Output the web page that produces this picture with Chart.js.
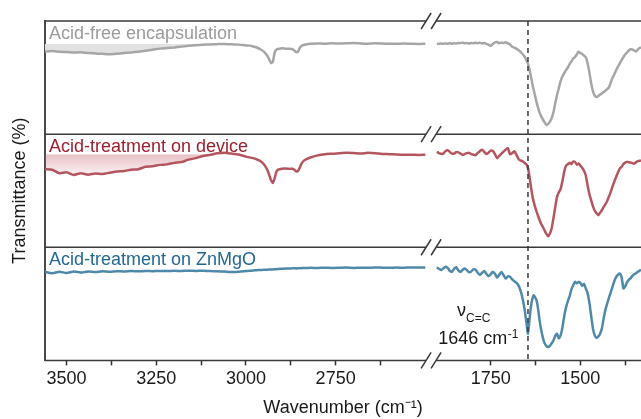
<!DOCTYPE html>
<html>
<head>
<meta charset="utf-8">
<script src="https://cdn.jsdelivr.net/npm/chart.js@4.4.0/dist/chart.umd.min.js"></script>
<style>
    html, body { margin: 0; padding: 0; background: #fff; }
    #wrap { width: 641px; height: 419px; }
</style>
</head>
<body>
<div id="wrap"><canvas id="ftir-chart"></canvas></div>
<script>
// wavenumbers (cm-1) on each side of the axis break
const wnLeft = [
    3560, 3540, 3520, 3500, 3480, 3460, 3440, 3420, 3400, 3380,
    3360, 3340, 3320, 3300, 3280, 3260, 3240, 3220, 3200, 3180,
    3160, 3140, 3120, 3100, 3080, 3060, 3040, 3020, 3000, 2990,
    2980, 2970, 2960, 2950, 2940, 2935, 2930, 2925, 2920, 2915,
    2910, 2900, 2890, 2880, 2870, 2865, 2860, 2855, 2850, 2845,
    2840, 2830, 2820, 2800, 2780, 2760, 2740, 2720, 2700, 2680,
    2660, 2640, 2620, 2600, 2580, 2560, 2540, 2520, 2500
]
const wnRight = [
    1900, 1894, 1888, 1882, 1876, 1870, 1864, 1858, 1852, 1846,
    1840, 1834, 1828, 1822, 1816, 1810, 1804, 1798, 1792, 1786,
    1780, 1774, 1768, 1762, 1756, 1750, 1744, 1738, 1732, 1726,
    1720, 1714, 1708, 1702, 1696, 1690, 1684, 1678, 1672, 1666,
    1660, 1655, 1650, 1646, 1642, 1638, 1634, 1630, 1626, 1622,
    1618, 1614, 1610, 1605, 1600, 1595, 1590, 1585, 1580, 1575,
    1570, 1565, 1560, 1555, 1550, 1545, 1540, 1535, 1530, 1525,
    1520, 1515, 1510, 1505, 1500, 1495, 1490, 1485, 1480, 1475,
    1470, 1465, 1460, 1455, 1450, 1445, 1440, 1435, 1430, 1425,
    1420, 1415, 1410, 1405, 1400, 1395, 1390, 1385, 1380, 1375,
    1370, 1365, 1360, 1355, 1350, 1345, 1340, 1335, 1331
]

// transmittance (a.u., each panel runs 0..113)
const freeLeft = [
    82.5, 83, 82.3, 82, 81.5, 81.8, 81, 80.6, 80.2, 79.8,
    80.3, 81, 81.6, 82.4, 83.3, 84.3, 85.4, 86, 86.6, 87.4,
    88.2, 88.8, 89.3, 89.6, 89.9, 90.1, 89.8, 89.4, 88.6, 88.4,
    87.6, 86.5, 84.8, 82.5, 78, 74.5, 71, 72.5, 81.5, 84.5,
    85, 85.7, 85.4, 85.2, 84.8, 83.5, 82, 82.3, 86, 88,
    89, 89.8, 90.2, 90.6, 90.4, 90.8, 90.5, 90.7, 91, 90.6,
    90.4, 90.7, 90.5, 90.3, 90.2, 90.5, 90.3, 90.1, 90.4
]
const freeRight = [
    90, 90.3, 90.5, 90.2, 90.6, 90.3, 90.7, 90.4, 90.8, 90.5,
    91, 90.9, 91.4, 90.8, 91, 90.5, 91.1, 90.7, 91.3, 90.9,
    91.4, 90.6, 91, 90.2, 89.3, 88.2, 90, 91.7, 92, 90.8,
    91.5, 90.9, 91.7, 90.6, 89.5, 87.3, 86.4, 85.2, 83.8, 82,
    79.5, 77.5, 73.5, 70.5, 65, 58, 50.5, 44, 38, 32,
    26.5, 22, 18.5, 15, 12, 9.3, 10, 12.5, 16, 22,
    31, 39, 46, 53, 57.5, 61, 64, 66.5, 70, 72.5,
    75.5, 77, 79.5, 82.3, 81, 80, 78.5, 77, 71, 62,
    51, 43, 38.5, 37, 38, 39.5, 40.7, 42, 43.5, 45,
    47, 52, 56.5, 60, 64, 67.5, 71, 74, 77, 79.5,
    81.5, 83.5, 84.8, 84.5, 83.5, 82.5, 84.5, 86, 86.7
]
const deviceLeft = [
    78, 77.5, 74, 74.8, 72.3, 74, 72.5, 73.8, 73.2, 74.5,
    75.6, 76.2, 77.5, 77.9, 80.5, 80.9, 82.3, 82.8, 84.3, 85.1,
    87.5, 89, 91.2, 92.3, 93.8, 94.4, 93.6, 92.6, 90.5, 89.8,
    89, 87.8, 86.2, 83, 77, 72, 67, 64.3, 69, 75.5,
    77.5, 78.5, 78.7, 78.3, 78.5, 77.5, 75.8, 76, 79.5, 83.5,
    86, 88.3, 89.7, 91.8, 93, 93.4, 93.8, 94.5, 94.2, 93.7,
    94.3, 93.9, 93.2, 93, 92.6, 92.3, 92.5, 92.2, 92.4
]
const deviceRight = [
    95.3, 94, 93.3, 93.5, 96, 97, 95.3, 93.5, 93.5, 95,
    94.8, 93.6, 92.2, 93.2, 94, 94.3, 93, 92.5, 92, 94.2,
    96, 97.5, 95.3, 93.2, 94.5, 96.5, 96.2, 93, 89, 91.2,
    93.5, 95.5, 97.5, 99, 93, 94, 96, 92.3, 88, 86.5,
    85.7, 84.2, 82.5, 79, 71, 61, 52, 45.3, 40, 35.5,
    31.5, 27.5, 24, 20.5, 17, 13.5, 11, 13.5, 19, 29,
    40, 50.3, 55, 58, 66, 75.5, 81.5, 83, 84.5, 83.2,
    85.5, 85.3, 82.5, 83.7, 81.5, 79.5, 76.5, 72, 62, 53.5,
    47, 41, 36.5, 34, 32, 34.5, 37, 40.3, 43, 46.5,
    51, 55.5, 61, 66, 70.5, 75, 78.5, 80.5, 83, 84.5,
    85.3, 85, 84.6, 84, 83.5, 85, 86, 86.5, 86.3
]
const znmgoLeft = [
    88.5, 87, 88.5, 87.3, 88.7, 87.8, 88.9, 88.3, 89, 88.6,
    89.1, 88.8, 89.2, 89, 89.3, 89.1, 89.4, 89.2, 89.5, 89.3,
    89.6, 89.4, 89.5, 89.2, 89, 88.7, 88.4, 88.6, 89.2, 89.5,
    89.8, 90.1, 90.3, 90.5, 90.6, 90.8, 90.7, 90.9, 91, 91.1,
    91.3, 91.5, 91.7, 91.8, 92, 92.1, 91.9, 92, 92.2, 92.1,
    92.3, 92.2, 92.5, 92.3, 92.6, 92.4, 92.5, 92.7, 92.4, 92.6,
    92.5, 92.8, 92.6, 92.5, 92.7, 92.6, 92.8, 92.7, 92.9
]
const znmgoRight = [
    93, 91.5, 90.2, 91.8, 93.5, 92.5, 89.5, 88.5, 91.5, 93,
    90, 88.3, 90.5, 91.7, 90, 88, 88.8, 91, 90.5, 87.5,
    85.3, 87.5, 89.3, 86.5, 84, 86, 88.5, 86.5, 82.8, 85.5,
    88.3, 85, 81.7, 84, 83.5, 81, 79, 77.5, 74.5, 69,
    60, 50, 37, 26.7, 40, 53, 61, 65, 63, 60,
    52, 41, 32, 23.5, 17.5, 14.5, 13.3, 14.5, 17, 20,
    24.5, 26.7, 22, 25, 33, 44, 53, 59, 64, 71,
    75, 78.5, 77, 78.3, 77.5, 74.5, 76.5, 72, 67.5, 58,
    45, 32, 25, 22.5, 24, 26.7, 32, 42, 51, 57,
    63, 68.5, 74, 79.5, 83.5, 85.5, 86.7, 83, 72, 74,
    78, 80.5, 82, 84.5, 86, 87, 88.5, 89.5, 90.7
]

const seriesNames = ["Acid-free encapsulation", "Acid-treatment on device", "Acid-treatment on ZnMgO"]
const majorLeft = [3500, 3250, 3000, 2750]
const minorLeft = [3375, 3125, 2875, 2625]
const majorRight = [1750, 1500]
const minorRight = [1625, 1375]
const peakWn = 1646
const bandLevels = [90, 93]   // shaded strip under the first two labels
const bandEnd = 26            // strip covers wnLeft[0..25]

const lineColors = ["#a6a6a6", "#b5555e", "#4f89aa"]
const labelColors = ["#9b9b9b", "#9d1f2e", "#236892"]
const yIds = ["y1", "y2", "y3"]   // top, middle, bottom panel
const leftVals = [freeLeft, deviceLeft, znmgoLeft]
const rightVals = [freeRight, deviceRight, znmgoRight]

Chart.defaults.font.family = '"Liberation Sans", Arial, Helvetica, sans-serif'
Chart.defaults.font.size = 18
Chart.defaults.color = "#1a1a1a"

const toPoints = (wn, t) => wn.map((w, i) => ({x: w, y: t[i]}))

let datasets = []
yIds.forEach((yId, i) => {
    for (const [xId, wn, vals] of [["xL", wnLeft, leftVals[i]], ["xR", wnRight, rightVals[i]]]) {
        datasets.push({
            label: seriesNames[i],
            data: toPoints(wn, vals),
            xAxisID: xId,
            yAxisID: yId,
            borderColor: lineColors[i],
            borderWidth: 2.5,
            pointRadius: 0,
            tension: 0.2,
            fill: false,
            order: 1
        })
    }
})

// grey band under "Acid-free encapsulation"
datasets.push({
    data: toPoints(wnLeft.slice(0, bandEnd), freeLeft.slice(0, bandEnd)),
    xAxisID: "xL", yAxisID: "y1",
    borderColor: "rgba(0,0,0,0)", borderWidth: 0, pointRadius: 0, tension: 0.2,
    backgroundColor: "#e2e2e2",
    fill: {target: {value: bandLevels[0]}, above: "rgba(0,0,0,0)"},
    order: 5
})
// pink fading band under "Acid-treatment on device"
datasets.push({
    data: toPoints(wnLeft.slice(0, bandEnd), deviceLeft.slice(0, bandEnd)),
    xAxisID: "xL", yAxisID: "y2",
    borderColor: "rgba(0,0,0,0)", borderWidth: 0, pointRadius: 0, tension: 0.2,
    backgroundColor: c => {
        const y = c.chart.scales.y2
        if (!y || y.top === undefined) return "rgba(0,0,0,0)"
        const top = y.getPixelForValue(bandLevels[1])
        const g = c.chart.ctx.createLinearGradient(0, top, 0, top + 24)
        g.addColorStop(0, "rgba(195,90,100,0.38)")
        g.addColorStop(1, "rgba(195,90,100,0.03)")
        return g
    },
    fill: {target: {value: bandLevels[1]}, above: "rgba(0,0,0,0)"},
    order: 5
})

const yAxis = (withTitle) => ({
    type: "linear",
    position: "left",
    stack: "panels",
    stackWeight: 1,
    min: 0,
    max: 113,
    ticks: {display: false},
    grid: {display: false, drawTicks: false},
    border: {display: true, color: "#4a4a4a", width: 2},
    title: {display: withTitle, text: "Transmittance (%)", font: {size: 18}, color: "#1a1a1a", padding: {top: 9, bottom: 0}},
    afterFit: s => { s.width = 45 }
})

const xAxis = (lo, hi, major, minor) => ({
    type: "linear",
    position: "bottom",
    stack: "wn",
    stackWeight: hi - lo,
    min: lo,
    max: hi,
    reverse: true,
    border: {display: false},
    grid: {display: true, drawOnChartArea: false, drawTicks: true, tickLength: 5, tickColor: "#333", tickWidth: 1.5},
    ticks: {
        autoSkip: false,
        maxRotation: 0,
        padding: 3,
        font: {size: 18},
        color: "#1a1a1a",
        callback: v => major.includes(v) ? String(v) : ""
    },
    afterBuildTicks: s => { s.ticks = major.concat(minor).sort((a, b) => a - b).map(v => ({value: v})) },
    afterFit: s => { s.height = 36 }
})

const panelFrame = {
    id: "panelFrame",
    afterDatasetsDraw(chart) {
        const {ctx, chartArea: a, scales} = chart
        const xb = scales.xL.right
        const rows = [scales.y1.top, scales.y2.top, scales.y3.top, scales.y3.bottom]
        ctx.save()
        ctx.strokeStyle = "#3a3a3a"
        ctx.lineWidth = 1.5
        for (const y of rows) {
            ctx.beginPath()
            ctx.moveTo(a.left, y); ctx.lineTo(xb - 5, y)
            ctx.moveTo(xb + 5, y); ctx.lineTo(a.right, y)
            ctx.stroke()
            ctx.beginPath()
            ctx.moveTo(xb - 10, y + 8); ctx.lineTo(xb, y - 8)
            ctx.moveTo(xb, y + 8); ctx.lineTo(xb + 10, y - 8)
            ctx.stroke()
        }

        // dashed marker at the C=C stretch
        const px = scales.xR.getPixelForValue(peakWn)
        ctx.setLineDash([5, 4])
        ctx.beginPath()
        ctx.moveTo(px, a.top); ctx.lineTo(px, a.bottom)
        ctx.stroke()
        ctx.setLineDash([])

        // panel labels
        const big = '18px "Liberation Sans", Arial, sans-serif'
        const small = '12px "Liberation Sans", Arial, sans-serif'
        ctx.font = big
        ctx.textAlign = "left"
        ctx.textBaseline = "alphabetic"
        yIds.forEach((id, i) => {
            ctx.fillStyle = labelColors[i]
            ctx.fillText(seriesNames[i], a.left + 4, scales[id].top + 18)
        })

        // peak annotation
        const y3 = scales.y3
        ctx.fillStyle = "#1a1a1a"
        const nuY = y3.getPixelForValue(44)
        ctx.fillText("\u03bd", px - 71, nuY)
        ctx.font = small
        ctx.fillText("C=C", px - 62, nuY + 6)
        const base = y3.getPixelForValue(16)
        const main = peakWn + " cm"
        ctx.font = big
        const w1 = ctx.measureText(main).width
        ctx.font = small
        const w2 = ctx.measureText("-1").width
        const x0 = px - 10 - w1 - w2
        ctx.font = big
        ctx.fillText(main, x0, base)
        ctx.font = small
        ctx.fillText("-1", x0 + w1 + 0.5, base - 6)
        ctx.restore()
    }
}

new Chart(document.getElementById("ftir-chart"), {
    type: "line",
    data: {datasets: datasets},
    options: {
        responsive: true,
        maintainAspectRatio: false,
        animation: false,
        devicePixelRatio: 1,
        layout: {padding: {top: 21, left: 0, right: 0, bottom: 0}},
        plugins: {
            legend: {display: false},
            tooltip: {enabled: false},
            title: {
                display: true,
                position: "bottom",
                fullSize: false,
                text: "Wavenumber (cm\u207b\u00b9)",
                font: {size: 18, weight: "normal"},
                color: "#1a1a1a",
                padding: {top: 1, bottom: 0}
            }
        },
        scales: {
            // stacked boxes are laid out bottom-up, so list the lowest panel first
            y3: yAxis(false),
            y2: yAxis(true),
            y1: yAxis(false),
            xL: xAxis(2484, 3560, majorLeft, minorLeft),
            xR: xAxis(1331, 1916, majorRight, minorRight)
        }
    },
    plugins: [panelFrame]
})
</script>
</body>
</html>
